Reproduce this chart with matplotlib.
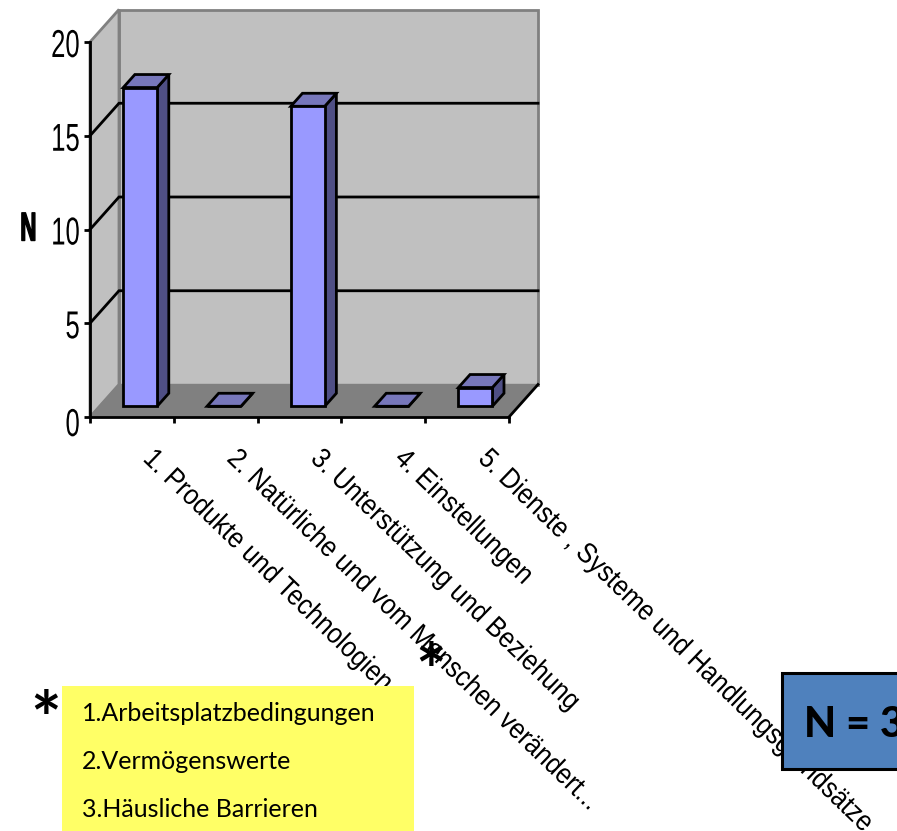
import matplotlib
matplotlib.use("Agg")
import matplotlib.pyplot as plt
from matplotlib.patches import Polygon, Rectangle
from matplotlib.patheffects import AbstractPathEffect
from matplotlib.transforms import Affine2D

W, H = 897, 831

categories = [
    "1. Produkte und Technologien",
    "2. Natürliche und vom Menschen verändert...",
    "3. Unterstützung und Beziehung",
    "4. Einstellungen",
    "5. Dienste , Systeme und Handlungsgrundsätze",
]
values = [17, 0, 16, 0, 1]
y_ticks = [0, 5, 10, 15, 20]
notes = ["1.Arbeitsplatzbedingungen", "2.Vermögenswerte", "3.Häusliche Barrieren"]
sample_label = "N = 3"

SANS = ["Liberation Sans", "DejaVu Sans"]
NOTE_FONT = ["Lato", "DejaVu Sans"]


class Squeeze(AbstractPathEffect):
    """Condense text horizontally about its left, centre or right end."""

    def __init__(self, sx, anchor="left", dy=0.0, stroke=0.0):
        super().__init__()
        self.sx = sx
        self.anchor = anchor
        self.dy = dy
        self.stroke = stroke

    def draw_path(self, renderer, gc, tpath, affine, rgbFace=None):
        xs = tpath.vertices[:, 0]
        pivot = {"left": 0.0, "center": (xs.min() + xs.max()) / 2, "right": xs.max()}[self.anchor]
        squeeze = Affine2D().translate(-pivot, 0).scale(self.sx, 1).translate(pivot, 0)
        gc0 = renderer.new_gc()
        gc0.copy_properties(gc)
        if self.stroke:
            gc0.set_linewidth(self.stroke)
            gc0.set_foreground(rgbFace)
        renderer.draw_path(gc0, tpath, squeeze + affine + Affine2D().translate(0, self.dy), rgbFace)
        gc0.restore()


fig = plt.figure(figsize=(W / 100, H / 100), dpi=100)
fig.patch.set_facecolor("white")

# Front plane of the 3D chart: categories along x, counts along y
left, right, bottom, top = 90, 509, 417, 42
ax = fig.add_axes([left / W, 1 - bottom / H, (right - left) / W, (bottom - top) / H])
ax.set_xlim(0, 5)
ax.set_ylim(0, 20)
ax.patch.set_visible(False)

# Depth vector of the box, as data units per unit of depth
DX = 29 / ((right - left) / 5)
DY = 32.5 / ((bottom - top) / 20)


def proj(x, y, d):
    return (x + d * DX, y + d * DY)


def face(points, **kw):
    kw.setdefault("joinstyle", "miter")
    p = Polygon([proj(*pt) for pt in points], closed=True, clip_on=False, **kw)
    ax.add_patch(p)


wall_edge = "#808080"
# Back wall, side wall and floor
face([(0, 0, 1), (5, 0, 1), (5, 20, 1), (0, 20, 1)], fc="#C0C0C0", ec=wall_edge, lw=2, zorder=1)
face([(0, 0, 0), (0, 0, 1), (0, 20, 1), (0, 20, 0)], fc="#C0C0C0", ec=wall_edge, lw=2, zorder=1)
face([(0, 0, 0), (5, 0, 0), (5, 0, 1), (0, 0, 1)], fc="#808080", ec="#808080", lw=1, zorder=2)
ax.plot(*zip(proj(5, 0, 0), proj(5, 0, 1)), color="black", lw=2, zorder=2, clip_on=False)

# Gridlines run along the side wall and across the back wall
for t in y_ticks[1:-1]:
    pts = [proj(0, t, 0), proj(0, t, 1), proj(5, t, 1)]
    ax.plot(*zip(*pts), color="black", lw=2, zorder=3, clip_on=False, solid_joinstyle="miter")

# Columns
BAR_W = 0.405
D0, D1 = 0.33, 0.73
bar_edge = dict(ec="black", lw=2, zorder=4)
for i, v in enumerate(values):
    x0 = i + 0.5 - BAR_W / 2 - 0.015
    x1 = x0 + BAR_W
    face([(x1, 0, D0), (x1, 0, D1), (x1, v, D1), (x1, v, D0)], fc="#4F4F85", **bar_edge)
    face([(x0, v, D0), (x1, v, D0), (x1, v, D1), (x0, v, D1)], fc="#7777BB", **bar_edge)
    face([(x0, 0, D0), (x1, 0, D0), (x1, v, D0), (x0, v, D0)], fc="#9999FF", **bar_edge)

# Axes
for s in ("top", "right"):
    ax.spines[s].set_visible(False)
for s in ("left", "bottom"):
    ax.spines[s].set_linewidth(2)
    ax.spines[s].set_zorder(6)
ax.set_xticks(range(6))
ax.set_xticklabels([])
ax.set_yticks(y_ticks)
ax.set_yticklabels([str(t) for t in y_ticks], family=SANS, fontsize=28)
ax.tick_params(axis="both", length=4, width=2, pad=3)
for t, lbl in zip(y_ticks, ax.get_yticklabels()):
    lbl.set_path_effects([Squeeze(0.66, "right", dy=-5 if t == 0 else -1)])

ax.annotate("N", xy=(0, 10), xytext=(-61, 0), textcoords="offset pixels", family=SANS,
            fontsize=29, fontweight="bold", ha="center", va="center", annotation_clip=False,
            path_effects=[Squeeze(0.55, "center", stroke=1.0)])

# Slanted category names
for i, name in enumerate(categories):
    ax.annotate(name, xy=(i + 0.5, 0), xytext=(15, -38), textcoords="offset pixels",
                family=SANS, fontsize=20.5, rotation=-44, rotation_mode="anchor",
                ha="left", va="center", annotation_clip=False, color="black",
                path_effects=[Squeeze(0.89)])

# Overlay in pixel coordinates for the note box, the sample-size box and the stars
ov = fig.add_axes([0, 0, 1, 1], zorder=10)
ov.set_xlim(0, W)
ov.set_ylim(H, 0)
ov.axis("off")

ov.add_patch(Rectangle((62, 686), 352, 145, fc="#FFFF66", ec="none", zorder=1))
for y, line in zip([721, 769, 817], notes):
    ov.text(82, y, line, family=NOTE_FONT, fontsize=18, va="baseline", ha="left", color="black", zorder=2)

ov.add_patch(Rectangle((782, 673), 140, 96, fc="#4F81BD", ec="black", lw=2.2, zorder=1))
ov.text(804, 737, sample_label, family=NOTE_FONT, fontsize=30, fontweight=900,
        va="baseline", ha="left", color="black", zorder=2)

for x, y in [(46, 724), (431, 677)]:
    ov.text(x, y, "*", family=NOTE_FONT, fontsize=52, fontweight="bold", ha="center",
            va="center", color="black", zorder=3)

fig.savefig("out.png", dpi=100)
